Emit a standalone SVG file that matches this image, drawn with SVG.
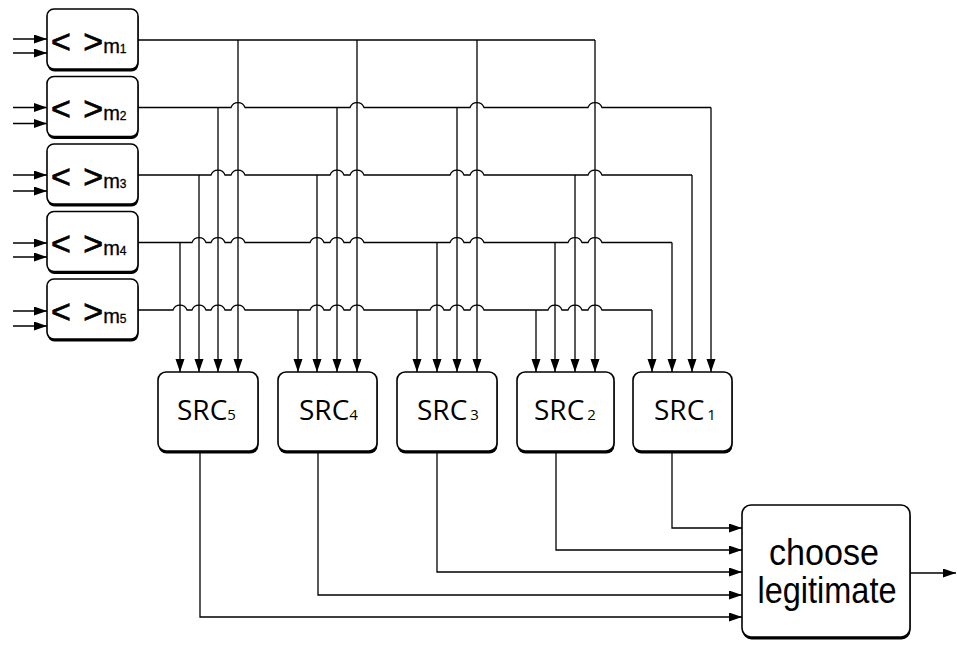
<svg xmlns="http://www.w3.org/2000/svg" width="957" height="645" viewBox="0 0 957 645">
<defs>
<marker id="ah" markerUnits="userSpaceOnUse" markerWidth="14" markerHeight="10" refX="13" refY="4.5" orient="auto">
<path d="M0,0 L13,4.5 L0,9 z" fill="#000"/>
</marker>
<style>
.ln{fill:none;stroke:#000;stroke-width:1.3}
.ar{fill:none;stroke:#000;stroke-width:1.3;marker-end:url(#ah)}
.box{fill:#fff;stroke:#000;stroke-width:1.6}
.sh{fill:#000}
.mt{font-family:"Liberation Sans",Arial,sans-serif;font-size:34px;fill:#000;stroke:#000;stroke-width:0.7}
.ms{stroke-width:0.3}
.st{font-family:"Open Sans","Noto Sans",sans-serif;font-size:28px;fill:#000}
.ct{font-family:"Liberation Sans",Arial,sans-serif;font-size:36px;fill:#000;text-anchor:middle}
</style>
</defs>
<rect width="957" height="645" fill="#fff"/>

<g id="m1">
<rect class="sh" x="47.5" y="11.5" width="91" height="60" rx="7"/>
<rect class="box" x="47" y="9" width="91" height="60" rx="7"/>
<text class="mt" x="51" y="52.5" word-spacing="3">&lt; &gt;<tspan class="ms" font-size="20">m</tspan><tspan class="ms" font-size="12">1</tspan></text>
</g>
<g id="m2">
<rect class="sh" x="47.5" y="79" width="91" height="60" rx="7"/>
<rect class="box" x="47" y="76.5" width="91" height="60" rx="7"/>
<text class="mt" x="51" y="120" word-spacing="3">&lt; &gt;<tspan class="ms" font-size="20">m</tspan><tspan class="ms" font-size="12">2</tspan></text>
</g>
<g id="m3">
<rect class="sh" x="47.5" y="146.5" width="91" height="60" rx="7"/>
<rect class="box" x="47" y="144" width="91" height="60" rx="7"/>
<text class="mt" x="51" y="187.5" word-spacing="3">&lt; &gt;<tspan class="ms" font-size="20">m</tspan><tspan class="ms" font-size="12">3</tspan></text>
</g>
<g id="m4">
<rect class="sh" x="47.5" y="214" width="91" height="60" rx="7"/>
<rect class="box" x="47" y="211.5" width="91" height="60" rx="7"/>
<text class="mt" x="51" y="255" word-spacing="3">&lt; &gt;<tspan class="ms" font-size="20">m</tspan><tspan class="ms" font-size="12">4</tspan></text>
</g>
<g id="m5">
<rect class="sh" x="47.5" y="281.5" width="91" height="60" rx="7"/>
<rect class="box" x="47" y="279" width="91" height="60" rx="7"/>
<text class="mt" x="51" y="322.5" word-spacing="3">&lt; &gt;<tspan class="ms" font-size="20">m</tspan><tspan class="ms" font-size="12">5</tspan></text>
</g>

<g id="src5">
<rect class="sh" x="158.5" y="374.5" width="100" height="79" rx="8"/>
<rect class="box" x="158" y="372" width="100" height="79" rx="8"/>
<text class="st" x="177" y="420">SRC<tspan font-size="15">5</tspan></text>
</g>
<g id="src4">
<rect class="sh" x="278.5" y="374.5" width="99" height="79" rx="8"/>
<rect class="box" x="278" y="372" width="99" height="79" rx="8"/>
<text class="st" x="299" y="420">SRC<tspan font-size="15">4</tspan></text>
</g>
<g id="src3">
<rect class="sh" x="397.5" y="374.5" width="100" height="79" rx="8"/>
<rect class="box" x="397" y="372" width="100" height="79" rx="8"/>
<text class="st" x="417" y="420">SRC<tspan font-size="15" dx="3">3</tspan></text>
</g>
<g id="src2">
<rect class="sh" x="517.5" y="374.5" width="97" height="79" rx="8"/>
<rect class="box" x="517" y="372" width="97" height="79" rx="8"/>
<text class="st" x="534" y="420">SRC<tspan font-size="15" dx="3">2</tspan></text>
</g>
<g id="src1">
<rect class="sh" x="633.5" y="374.5" width="99" height="79" rx="8"/>
<rect class="box" x="633" y="372" width="99" height="79" rx="8"/>
<text class="st" x="654" y="420">SRC<tspan font-size="15" dx="3">1</tspan></text>
</g>

<g id="choose">
<rect class="sh" x="742.5" y="507.5" width="168" height="132" rx="9"/>
<rect class="box" x="742" y="505" width="168" height="132" rx="9"/>
<text class="ct" x="824" y="565" textLength="110" lengthAdjust="spacingAndGlyphs">choose</text>
<text class="ct" x="827" y="603" textLength="139" lengthAdjust="spacingAndGlyphs">legitimate</text>
</g>

<g id="connectors">
<path class="ar" d="M13,39 H47"/>
<path class="ar" d="M13,53 H47"/>
<path class="ar" d="M13,107.5 H47"/>
<path class="ar" d="M13,123.5 H47"/>
<path class="ar" d="M13,175 H47"/>
<path class="ar" d="M13,191 H47"/>
<path class="ar" d="M13,243 H47"/>
<path class="ar" d="M13,257 H47"/>
<path class="ar" d="M13,311 H47"/>
<path class="ar" d="M13,326 H47"/>

<path class="ln" d="M138,40 H595"/>
<path class="ar" d="M238,40 V372"/>
<path class="ar" d="M357,40 V372"/>
<path class="ar" d="M477,40 V372"/>
<path class="ar" d="M595,40 V372"/>

<path class="ln" d="M138,107.5 H231 a7.5,7.5 0 0 1 14,0 H350 a7.5,7.5 0 0 1 14,0 H470 a7.5,7.5 0 0 1 14,0 H588 a7.5,7.5 0 0 1 14,0 H711"/>
<path class="ar" d="M218,107.5 V372"/>
<path class="ar" d="M337,107.5 V372"/>
<path class="ar" d="M457,107.5 V372"/>
<path class="ar" d="M711,107.5 V372"/>

<path class="ln" d="M138,175 H211 a7.5,7.5 0 0 1 14,0 H231 a7.5,7.5 0 0 1 14,0 H330 a7.5,7.5 0 0 1 14,0 H350 a7.5,7.5 0 0 1 14,0 H450 a7.5,7.5 0 0 1 14,0 H470 a7.5,7.5 0 0 1 14,0 H588 a7.5,7.5 0 0 1 14,0 H692"/>
<path class="ar" d="M199,175 V372"/>
<path class="ar" d="M317,175 V372"/>
<path class="ar" d="M575,175 V372"/>
<path class="ar" d="M692,175 V372"/>

<path class="ln" d="M138,242.5 H192 a7.5,7.5 0 0 1 14,0 H211 a7.5,7.5 0 0 1 14,0 H231 a7.5,7.5 0 0 1 14,0 H310 a7.5,7.5 0 0 1 14,0 H330 a7.5,7.5 0 0 1 14,0 H350 a7.5,7.5 0 0 1 14,0 H450 a7.5,7.5 0 0 1 14,0 H470 a7.5,7.5 0 0 1 14,0 H568 a7.5,7.5 0 0 1 14,0 H588 a7.5,7.5 0 0 1 14,0 H672"/>
<path class="ar" d="M180,242.5 V372"/>
<path class="ar" d="M437,242.5 V372"/>
<path class="ar" d="M555,242.5 V372"/>
<path class="ar" d="M672,242.5 V372"/>

<path class="ln" d="M138,310 H173 a7.5,7.5 0 0 1 14,0 H192 a7.5,7.5 0 0 1 14,0 H211 a7.5,7.5 0 0 1 14,0 H231 a7.5,7.5 0 0 1 14,0 H310 a7.5,7.5 0 0 1 14,0 H330 a7.5,7.5 0 0 1 14,0 H350 a7.5,7.5 0 0 1 14,0 H430 a7.5,7.5 0 0 1 14,0 H450 a7.5,7.5 0 0 1 14,0 H470 a7.5,7.5 0 0 1 14,0 H548 a7.5,7.5 0 0 1 14,0 H568 a7.5,7.5 0 0 1 14,0 H588 a7.5,7.5 0 0 1 14,0 H652"/>
<path class="ar" d="M298,310 V372"/>
<path class="ar" d="M417,310 V372"/>
<path class="ar" d="M536,310 V372"/>
<path class="ar" d="M652,310 V372"/>

<path class="ar" d="M672,453 V528 H742"/>
<path class="ar" d="M556,453 V550 H742"/>
<path class="ar" d="M437,453 V572 H742"/>
<path class="ar" d="M318,453 V595 H742"/>
<path class="ar" d="M200,453 V617 H742"/>

<path class="ar" d="M910,573 H956"/>
</g>
</svg>
